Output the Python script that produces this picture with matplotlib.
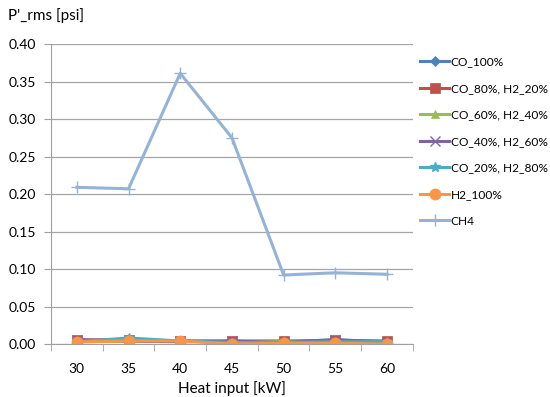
import matplotlib.pyplot as plt

# data
heat_input = ["30", "35", "40", "45", "50", "55", "60"]

co_100 = [0.004, 0.004, 0.004, 0.003, 0.003, 0.004, 0.003]
co80_h220 = [0.005, 0.006, 0.004, 0.004, 0.004, 0.005, 0.004]
co60_h240 = [0.003, 0.004, 0.004, 0.003, 0.004, 0.003, 0.003]
co40_h260 = [0.006, 0.004, 0.003, 0.004, 0.002, 0.006, 0.002]
co20_h280 = [0.003, 0.008, 0.004, 0.002, 0.002, 0.003, 0.003]
h2_100 = [0.003, 0.004, 0.004, 0.000, 0.001, 0.001, 0.000]
ch4 = [0.209, 0.207, 0.361, 0.275, 0.092, 0.095, 0.093]

labels = ["CO_100%", "CO_80%, H2_20%", "CO_60%, H2_40%", "CO_40%, H2_60%",
          "CO_20%, H2_80%", "H2_100%", "CH4"]
series = [co_100, co80_h220, co60_h240, co40_h260, co20_h280, h2_100, ch4]
colors = ["#4F81BD", "#C0504D", "#9BBB59", "#8064A2", "#4BACC6", "#F79646", "#95B3D7"]
markers = ["D", "s", "^", "x", "*", "o", "+"]
msizes = [5, 7, 6, 7, 7, 8, 8]

plt.rcParams['font.family'] = ['Lato', 'DejaVu Sans']

fig = plt.figure(figsize=(5.5, 3.97), dpi=100)
ax = fig.add_axes([0.0927, 0.1335, 0.658, 0.7555])

x = list(range(len(heat_input)))
for vals, lab, c, m, ms in zip(series, labels, colors, markers, msizes):
    ax.plot(x, vals, color=c, marker=m, markersize=ms, linewidth=2.2, label=lab,
            markeredgecolor=c, markeredgewidth=1.0 if m in ("x", "*", "+") else 0.5)

ax.set_xlim(-0.5, 6.5)
ax.set_ylim(0, 0.40)
ax.set_yticks([0.00, 0.05, 0.10, 0.15, 0.20, 0.25, 0.30, 0.35, 0.40])
ax.set_yticklabels([f"{v:.2f}" for v in ax.get_yticks()])
ax.set_xticks(x)
ax.set_xticklabels(heat_input)
ax.set_xticks([i - 0.5 for i in range(8)], minor=True)
ax.tick_params(axis='x', which='major', length=0, pad=14, labelsize=10)
ax.tick_params(axis='x', which='minor', length=5, color='#A0A0A0', direction='out')
ax.tick_params(axis='y', length=5, color='#A0A0A0', labelsize=10, pad=6)
ax.yaxis.grid(True, color='#A6A6A6', linewidth=0.9)
ax.set_axisbelow(True)
for s in ['top', 'right']:
    ax.spines[s].set_visible(False)
for s in ['left', 'bottom']:
    ax.spines[s].set_color('#A0A0A0')

ax.set_xlabel("Heat input [kW]", fontsize=11, labelpad=4)
fig.text(0.015, 0.96, "P'_rms [psi]", fontsize=11, va='center', ha='left')

fig.legend(loc='upper left', bbox_to_anchor=(0.764, 0.858), frameon=False,
           borderpad=0, borderaxespad=0,
           fontsize=8.6, handlelength=2.4, labelspacing=1.3, handletextpad=0.15)

fig.savefig("out.png", dpi=100)
